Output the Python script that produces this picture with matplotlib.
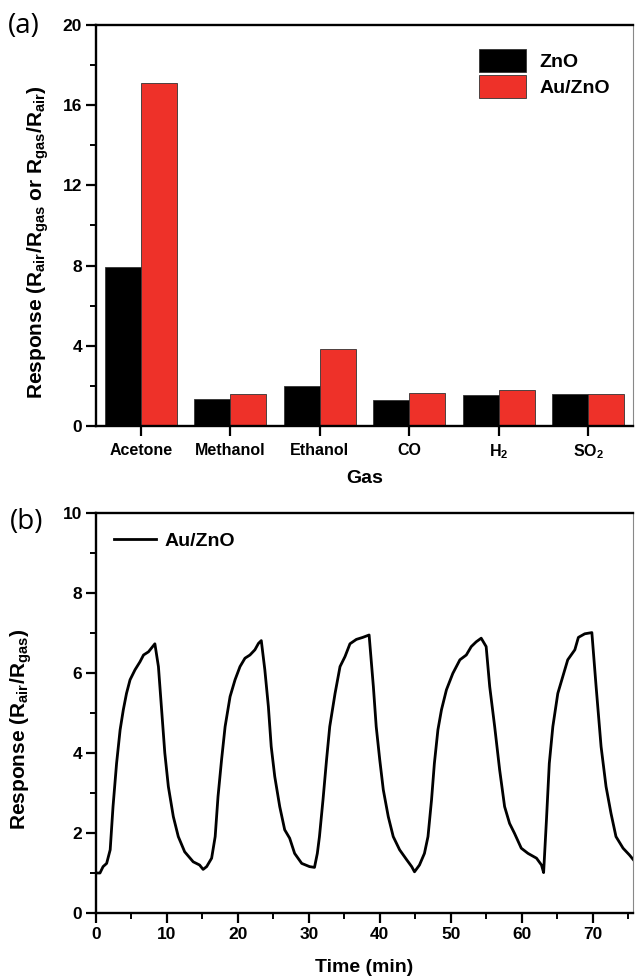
import matplotlib
matplotlib.use("Agg")
import matplotlib.pyplot as plt
import numpy as np
from matplotlib.ticker import MultipleLocator

plt.rcParams['font.family'] = ['Liberation Sans', 'DejaVu Sans']
plt.rcParams['font.weight'] = 'bold'
plt.rcParams['mathtext.fontset'] = 'custom'
plt.rcParams['mathtext.rm'] = 'Liberation Sans:bold'
plt.rcParams['mathtext.bf'] = 'Liberation Sans:bold'
plt.rcParams['mathtext.it'] = 'Liberation Sans:bold'

# ---- data: panel (a)
gases = ['Acetone', 'Methanol', 'Ethanol', 'CO', r'H$_{\rm 2}$', r'SO$_{\rm 2}$']
zno = [7.93, 1.33, 1.98, 1.31, 1.53, 1.58]
auzno = [17.1, 1.59, 3.82, 1.63, 1.78, 1.62]

# ---- data: panel (b)
time_min = [0.0, 0.56, 1.0, 1.5, 2.0, 2.4, 2.9, 3.4, 3.85, 4.3, 4.8, 5.5, 6.2, 6.7, 7.4, 8.3,
            8.8, 9.25, 9.7, 10.2, 10.9, 11.6, 12.5, 13.7, 14.6, 15.1, 15.6, 16.3, 16.8, 17.2,
            17.7, 18.2, 18.9, 19.6, 20.3, 21.0, 21.7, 22.4, 22.9, 23.3,
            23.8, 24.3, 24.7, 25.2, 25.9, 26.6, 27.3, 28.0, 29.0, 30.1, 30.8, 31.2, 31.5,
            32.0, 32.5, 32.95, 33.7, 34.4, 35.1, 35.8, 36.7, 37.6, 38.5,
            39.1, 39.5, 40.0, 40.5, 41.2, 41.9, 42.8, 43.8, 44.5, 44.9, 45.6, 46.3, 46.8,
            47.3, 47.7, 48.2, 48.7, 49.4, 50.3, 51.3, 52.2, 52.9, 53.6, 54.3,
            55.0, 55.5, 56.2, 56.9, 57.6, 58.3, 59.0, 59.95, 60.9, 62.1, 62.8, 63.1,
            63.5, 63.9, 64.4, 65.1, 65.8, 66.5, 67.5, 68.0, 68.9, 69.9,
            70.5, 71.2, 71.9, 72.6, 73.3, 74.3, 75.2, 75.9]
response = [1.0, 1.0, 1.16, 1.24, 1.58, 2.66, 3.74, 4.58, 5.08, 5.49, 5.83, 6.08, 6.28, 6.45, 6.53, 6.73,
            6.16, 5.08, 4.0, 3.16, 2.41, 1.91, 1.53, 1.28, 1.2, 1.09, 1.16, 1.37, 1.91, 2.91,
            3.83, 4.66, 5.41, 5.83, 6.16, 6.37, 6.45, 6.58, 6.74, 6.81,
            6.08, 5.16, 4.16, 3.41, 2.66, 2.08, 1.87, 1.49, 1.24, 1.16, 1.14, 1.49, 1.91,
            2.83, 3.83, 4.66, 5.49, 6.16, 6.41, 6.73, 6.84, 6.89, 6.95,
            5.66, 4.66, 3.83, 3.08, 2.41, 1.91, 1.58, 1.33, 1.16, 1.03, 1.2, 1.49, 1.91,
            2.83, 3.74, 4.58, 5.08, 5.58, 5.99, 6.33, 6.45, 6.66, 6.78, 6.87,
            6.66, 5.66, 4.66, 3.58, 2.66, 2.24, 1.99, 1.62, 1.49, 1.37, 1.2, 1.01,
            2.33, 3.74, 4.66, 5.49, 5.91, 6.33, 6.58, 6.89, 6.98, 7.01,
            5.66, 4.16, 3.16, 2.49, 1.91, 1.62, 1.45, 1.3]

RED = '#EE3129'
W, H = 635, 980
fig = plt.figure(figsize=(W / 100, H / 100), dpi=100)

def axrect(l, t, r, b):
    return [l / W, 1 - b / H, (r - l) / W, (b - t) / H]

def style(ax):
    for s in ['left', 'bottom', 'top']:
        ax.spines[s].set_linewidth(1.7)
    ax.spines['right'].set_linewidth(0.8)
    ax.spines['right'].set_color('#888888')
    ax.tick_params(which='major', direction='out', length=7, width=1.6, labelsize=12.5,
                   top=False, right=False, pad=3)
    ax.tick_params(which='minor', direction='out', length=4, width=1.4,
                   top=False, right=False)
    for lab in ax.get_xticklabels() + ax.get_yticklabels():
        lab.set_fontweight('bold')

# ---------------- panel (a)
ax1 = fig.add_axes(axrect(96, 25, 633, 426))
x = np.arange(len(gases))
bw = 0.4
ax1.bar(x - bw / 2, zno, bw, color='black', edgecolor='#333333', linewidth=0.6, label='ZnO')
ax1.bar(x + bw / 2, auzno, bw, color=RED, edgecolor='#333333', linewidth=0.6, label='Au/ZnO')
ax1.set_xlim(-0.5, len(gases) - 0.5)
ax1.set_ylim(0, 20)
ax1.set_yticks([0, 4, 8, 12, 16, 20])
ax1.yaxis.set_minor_locator(MultipleLocator(2))
ax1.set_xticks(x)
ax1.set_xticklabels(gases, fontsize=11.5, fontweight='bold')
style(ax1)
ax1.tick_params(axis='x', labelsize=11.5, pad=5)
ax1.set_xlabel('Gas', fontsize=14, fontweight='bold', labelpad=6)
ax1.set_ylabel(r'Response (R$_{\rm air}$/R$_{\rm gas}$ or R$_{\rm gas}$/R$_{\rm air}$)',
               fontsize=15, fontweight='bold')
ax1.yaxis.set_label_coords(-0.083, 0.46)
leg = ax1.legend(loc='upper right', frameon=False, fontsize=14, handlelength=2.4,
                 handleheight=1.5, labelspacing=0.12, borderaxespad=0.5, handletextpad=0.7,
                 bbox_to_anchor=(0.99, 0.985))
for t in leg.get_texts():
    t.set_fontweight('bold')
fig.text(8 / W, 1 - 26 / H, '(a)', fontsize=20, family=['Open Sans', 'DejaVu Sans'],
         fontweight='normal', va='center', ha='left')

# ---------------- panel (b)
ax2 = fig.add_axes(axrect(96, 513, 633, 913))
ax2.plot(time_min, response, color='black', lw=2.0, label='Au/ZnO')
ax2.set_xlim(0, 75.7)
ax2.set_ylim(0, 10)
ax2.set_xticks(np.arange(0, 71, 10))
ax2.xaxis.set_minor_locator(MultipleLocator(5))
ax2.set_yticks(np.arange(0, 11, 2))
ax2.yaxis.set_minor_locator(MultipleLocator(1))
style(ax2)
ax2.set_xlabel('Time (min)', fontsize=14, fontweight='bold', labelpad=12)
ax2.set_ylabel(r'Response (R$_{\rm air}$/R$_{\rm gas}$)', fontsize=15, fontweight='bold')
ax2.yaxis.set_label_coords(-0.115, 0.46)
leg2 = ax2.legend(loc='upper left', frameon=False, fontsize=14, handlelength=2.2,
                  handletextpad=0.4, borderaxespad=0.5, bbox_to_anchor=(0.0, 0.995))
for t in leg2.get_texts():
    t.set_fontweight('bold')
fig.text(10 / W, 1 - 522 / H, '(b)', fontsize=20, family=['Open Sans', 'DejaVu Sans'],
         fontweight='normal', va='center', ha='left')

fig.savefig('out.png', dpi=100)
